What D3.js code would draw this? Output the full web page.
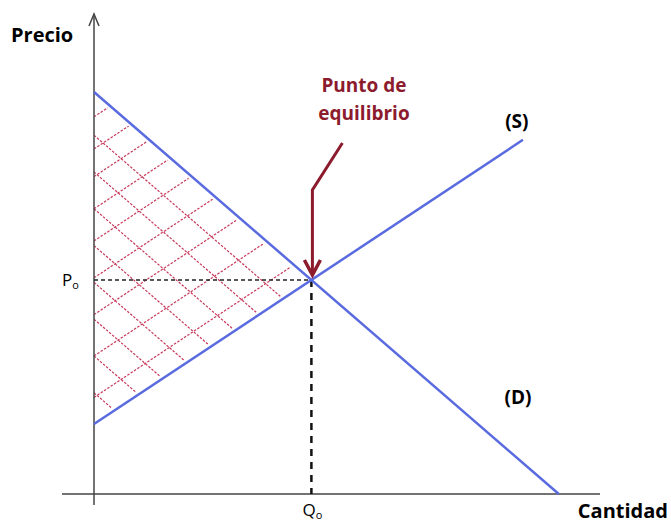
<!DOCTYPE html>
<html>
<head>
<meta charset="utf-8">
<script src="https://cdn.jsdelivr.net/npm/d3@7"></script>
<style>
  body { margin: 0; background: #fff; }
  text { font-family: "Open Sans", sans-serif; font-weight: 700; }
</style>
</head>
<body>
<div id="chart"></div>
<script>
// Curves (data units: quantity 0-100, price 0-100)
const demand = [{q: 0, p: 87.4}, {q: 83, p: 0}];
const supply = [{q: 0, p: 15.2}, {q: 76.6, p: 77}];

// Hatch line intercepts on the price axis
const hatchUp = [21, 30, 39, 47, 55, 62, 69, 75, 82];     // parallel to supply
const hatchDown = [22, 30, 38, 46, 54, 62, 70, 78];       // parallel to demand

// Labels
const axisLabels = {x: "Cantidad", y: "Precio"};
const curveLabels = [{name: "(S)", q: 75.5, p: 79.6}, {name: "(D)", q: 75.7, p: 19.6}];
const note = ["Punto de", "equilibrio"];

const width = 671, height = 524;

const svg = d3.select("#chart")
  .append("svg")
  .attr("width", width)
  .attr("height", height);

const x = d3.scaleLinear().domain([0, 100]).range([94, 654]);
const y = d3.scaleLinear().domain([0, 100]).range([494, 34]);

// Equilibrium from the two lines
const sd = (demand[1].p - demand[0].p) / (demand[1].q - demand[0].q);
const ss = (supply[1].p - supply[0].p) / (supply[1].q - supply[0].q);
const q0 = (supply[0].p - demand[0].p) / (sd - ss);
const p0 = demand[0].p + sd * q0;

// Hatched triangle
const defs = svg.append("defs");
defs.append("clipPath").attr("id", "tri")
  .append("path")
  .attr("d", d3.line()([[x(0), y(demand[0].p) + 4], [x(q0) - 6, y(p0)], [x(0), y(supply[0].p) - 4]]) + "Z");

const hatch = svg.append("g").attr("clip-path", "url(#tri)")
  .attr("stroke", "#c7385a")
  .attr("stroke-width", 1.2)
  .attr("stroke-dasharray", "2.5,1.5");

hatch.selectAll(".up")
  .data(hatchUp)
  .join("line")
  .attr("x1", x(0)).attr("y1", d => y(d))
  .attr("x2", x(60)).attr("y2", d => y(d + ss * 60));

hatch.selectAll(".down")
  .data(hatchDown)
  .join("line")
  .attr("x1", x(0)).attr("y1", d => y(d))
  .attr("x2", x(60)).attr("y2", d => y(d + sd * 60));

// Axes
const axis = svg.append("g").attr("stroke", "#444").attr("stroke-width", 1.5).attr("fill", "none");
axis.append("line").attr("x1", x(0)).attr("x2", x(0)).attr("y1", 505).attr("y2", 14);
axis.append("path").attr("d", `M${x(0) - 5},26 L${x(0)},14 L${x(0) + 5},26`);
axis.append("line").attr("x1", 62).attr("x2", 600).attr("y1", y(0)).attr("y2", y(0));

// Dashed guides
svg.append("line")
  .attr("x1", x(0)).attr("x2", x(q0)).attr("y1", y(p0)).attr("y2", y(p0))
  .attr("stroke", "#222").attr("stroke-width", 1.6).attr("stroke-dasharray", "4,3");
svg.append("line")
  .attr("x1", x(q0)).attr("x2", x(q0)).attr("y1", y(p0)).attr("y2", y(0))
  .attr("stroke", "#111").attr("stroke-width", 2.5).attr("stroke-dasharray", "7,6");

// Supply and demand lines
const line = d3.line().x(d => x(d.q)).y(d => y(d.p));
[demand, supply].forEach(d => {
  svg.append("path").datum(d)
    .attr("d", line)
    .attr("fill", "none")
    .attr("stroke", "#5a6be0")
    .attr("stroke-width", 2.5);
});

// Arrow to equilibrium
const red = "#8c1b2e";
svg.append("path")
  .attr("d", `M${x(q0) + 31},143 L${x(q0) + 1},190 L${x(q0) + 1},${y(p0) - 8}`)
  .attr("fill", "none").attr("stroke", red).attr("stroke-width", 3);
svg.append("path")
  .attr("d", `M${x(q0) - 7},${y(p0) - 20} L${x(q0) + 1},${y(p0) - 5} L${x(q0) + 9},${y(p0) - 20}`)
  .attr("fill", "none").attr("stroke", red).attr("stroke-width", 3.5).attr("stroke-linejoin", "miter");

svg.selectAll(".note")
  .data(note)
  .join("text")
  .attr("x", 364).attr("y", (d, i) => 92 + i * 28)
  .attr("text-anchor", "middle")
  .attr("fill", red)
  .style("font-size", "19px")
  .text(d => d);

// Axis titles
svg.append("text").attr("x", 11).attr("y", 42).style("font-size", "20px").text(axisLabels.y);
svg.append("text").attr("x", 668).attr("y", 518).attr("text-anchor", "end").style("font-size", "20px").text(axisLabels.x);

// Curve labels
svg.selectAll(".cl")
  .data(curveLabels)
  .join("text")
  .attr("x", d => x(d.q)).attr("y", d => y(d.p))
  .attr("text-anchor", "middle")
  .style("font-size", "19px")
  .text(d => d.name);

// P0 and Q0
const p = svg.append("text").attr("x", 62).attr("y", y(p0) + 6).style("font-weight", 400).style("font-size", "17px");
p.append("tspan").text("P");
p.append("tspan").attr("dy", 3).style("font-size", "11px").text("o");
const q = svg.append("text").attr("x", x(q0) - 9).attr("y", 516).style("font-weight", 400).style("font-size", "17px");
q.append("tspan").text("Q");
q.append("tspan").attr("dy", 3).style("font-size", "11px").text("o");
</script>
</body>
</html>
